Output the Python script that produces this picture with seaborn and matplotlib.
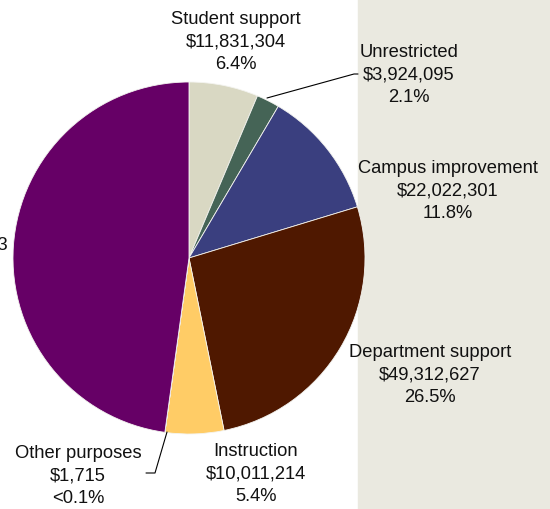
import matplotlib
matplotlib.use("Agg")
import matplotlib.pyplot as plt
import seaborn as sns

categories = ['Student support', 'Unrestricted', 'Campus improvement',
              'Department support', 'Instruction', 'Other purposes', 'Research']
amounts = [11831304, 3924095, 22022301, 49312627, 10011214, 1715, 88953373]
pct_labels = ['6.4%', '2.1%', '11.8%', '26.5%', '5.4%', '<0.1%', '47.8%']
colors = ['#D9D8C3', '#456456', '#3A3F7F', '#4F1800', '#FFCC66', '#FFCC66', '#660066']

sns.set_theme(style='white')
plt.rcParams['font.family'] = ['Liberation Sans', 'DejaVu Sans']

fig = plt.figure(figsize=(5.5, 5.1), dpi=100)
ax = fig.add_axes([0, 0, 1, 1])

# beige panel on the right
ax.axvspan(358, 550, color='#EAE9E0', zorder=0)

ax.pie(amounts, colors=colors, startangle=90, counterclock=False,
       center=(189, 251), radius=176,
       wedgeprops=dict(edgecolor='#F4F4F0', linewidth=0.6), frame=True)

# label positions in pixel space (x, y from top)
label_pos = [(236, 42), (409, 75), (448, 191), (430, 375), (256, 474), (78, 476)]
for name, amt, pct, (x, y) in zip(categories, amounts, pct_labels, label_pos):
    ax.text(x, 510 - y, f"{name}\n${amt:,.0f}\n{pct}", ha='center', va='center',
            fontsize=13.2, linespacing=1.42, color='#111111', zorder=5)
# largest slice label runs off the left edge, as in the original
ax.text(8, 510 - 245, f"{categories[-1]}\n${amounts[-1]:,.0f}\n{pct_labels[-1]}",
        ha='right', va='center', multialignment='center',
        fontsize=13.2, linespacing=1.42, color='#111111')

# leader lines
ax.plot([267, 354, 358], [510 - 99, 510 - 75, 510 - 75], color='black', lw=0.8, zorder=4)
ax.plot([167, 155, 146], [510 - 433, 510 - 474, 510 - 474], color='black', lw=0.8, zorder=4)

ax.set_xlim(0, 550)
ax.set_ylim(0, 510)
ax.set_aspect('equal')
ax.axis('off')

plt.savefig('out.png', dpi=100)
